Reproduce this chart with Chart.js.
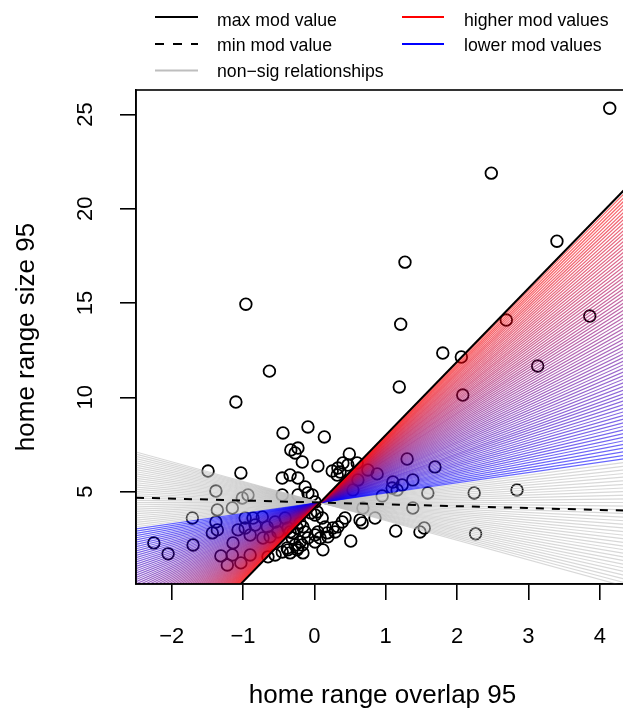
<!DOCTYPE html>
<html><head><meta charset="utf-8">
<script src="https://cdn.jsdelivr.net/npm/chart.js@4.4.1/dist/chart.umd.min.js"></script>
<style>
html,body{margin:0;padding:0;background:#fff;overflow:hidden;width:623px;height:711px;}
#wrap{position:relative;width:640px;height:711px;}
#c{position:absolute;left:0;top:0;}
.lg{position:absolute;font-family:"Liberation Sans",Arial,Helvetica,sans-serif;font-size:17.7px;color:#000;line-height:20px;white-space:nowrap;}
#lsvg{position:absolute;left:0;top:0;}
</style></head><body>
<div id="wrap">
<canvas id="c" width="640" height="711"></canvas>
<svg id="lsvg" width="623" height="88">
  <line x1="155" y1="17" x2="198" y2="17" stroke="#000" stroke-width="2"/>
  <line x1="155" y1="44" x2="198" y2="44" stroke="#000" stroke-width="2" stroke-dasharray="9 9"/>
  <line x1="155" y1="70.5" x2="198" y2="70.5" stroke="#bebebe" stroke-width="2"/>
  <line x1="402" y1="17" x2="444" y2="17" stroke="#ff0000" stroke-width="2"/>
  <line x1="402" y1="44" x2="444" y2="44" stroke="#0000ff" stroke-width="2"/>
</svg>
<div class="lg" style="left:217px;top:9.6px">max mod value</div>
<div class="lg" style="left:217px;top:35.2px">min mod value</div>
<div class="lg" style="left:217px;top:61.2px">non−sig relationships</div>
<div class="lg" style="left:464px;top:9.6px">higher mod values</div>
<div class="lg" style="left:464px;top:35.2px">lower mod values</div>
</div>
<script>
// ---- data ----
const xTicks = [-2, -1, 0, 1, 2, 3, 4];
const yTicks = [5, 10, 15, 20, 25];
const xRange = [-2.5, 4.41];
const yRange = [0.1, 26.3];

const overlap = [
  4.14, 2.48, 3.40, 1.27, -0.96, 1.21, 2.69, 3.86, 1.80, 2.06, -0.63, 1.19, 3.13, 2.08, -1.10,
  -0.44, -0.09, 0.14, -0.33, -0.23, -0.27, -0.17, 0.05, -1.49, -1.03, -0.45, -0.34, -0.23, 0.25, 0.33,
  0.40, 0.47, 0.36, 0.32, 0.49, 0.60, 0.75, 0.88, 0.61, 1.30, 1.69, 1.38, 1.10, 1.23, 1.09,
  1.16, 1.59, 0.95, 0.54, -0.13, -0.09, -0.23, 2.24, 2.84, 0.68, 1.38,
  -1.38, -0.93, -1.01, -0.45, -1.36, -1.15, -1.71, -1.38, -1.43, -1.36, -2.25, -2.05, -1.70, -1.31, -1.22,
  -1.15, -0.90, -1.03, -1.14, -1.07, -0.97, -0.86, -0.90, -0.83, -0.97, -0.73, -0.66, -0.62, -0.72, -0.55,
  -0.51, -0.41, -0.37, -0.31, -0.65, -0.55, -0.45, -0.37, -0.27, -0.20,
  0.12, 0.51, 0.67, 0.64, 0.85, 0.43, 0.39, 0.33, 0.26, 0.01, -0.09, -0.17, -0.23, -0.13, 0.05,
  0.15, 0.11, 0.01, 0.19, 0.29, 1.14, 1.48, 1.54, -0.05, 0.04, 0.01, -0.03, -0.20, -0.16, -0.24,
  -0.34, -0.30, 0.01, 0.08, 0.18, -0.38, -0.34, -0.24, -0.16, 2.26
];
const rangeSize = [
  25.33, 21.89, 18.28, 17.17, 14.94, 13.88, 14.10, 14.31, 12.35, 12.14, 11.39, 10.55, 11.66, 10.12, 9.75,
  8.11, 8.43, 7.90, 7.21, 7.31, 7.05, 6.57, 6.36, 6.09, 5.99, 5.72, 5.88, 5.72, 6.09, 6.25,
  6.52, 6.41, 6.04, 5.88, 7.00, 6.52, 6.15, 5.94, 5.62, 6.73, 6.31, 5.62, 5.51, 5.35, 5.19,
  5.09, 4.93, 4.77, 5.09, 5.25, 4.93, 4.82, 4.93, 5.09, 4.13, 4.13,
  5.03, 4.82, 4.66, 4.82, 4.03, 4.13, 3.60, 3.39, 2.81, 2.97, 2.28, 1.70, 2.17, 1.59, 1.11,
  1.64, 1.64, 1.22, 2.28, 2.97, 3.07, 3.60, 2.70, 3.23, 3.60, 3.66, 3.13, 2.60, 2.54, 3.39,
  2.86, 3.60, 3.07, 2.54, 1.54, 1.64, 1.80, 1.91, 2.17, 2.33,
  1.91, 2.38, 3.34, 3.50, 3.60, 3.60, 3.39, 3.13, 3.07, 2.33, 2.54, 2.17, 2.01, 2.86, 2.86,
  3.13, 3.60, 3.76, 2.60, 2.86, 2.91, 2.86, 3.07, 3.87, 3.92, 4.45, 4.82, 3.34, 3.13, 3.07,
  2.86, 2.81, 2.70, 2.54, 2.81, 2.01, 1.75, 1.91, 1.75, 2.76
];

// fitted relationships (all pass through a common point)
const fanPivot = [0.08, 4.42];        // [overlap, size]
const fanSlopeRange = [-1.04, 3.89];  // slope of lowest / highest moderator line
const fanLineCount = 110;
const sigSlopeLimit = 0.52;           // slopes below are non-significant
const maxModSlope = 3.89;
const minModSlope = -0.10;

// ---- chart ----
const FONT = '"Liberation Sans", Arial, Helvetica, sans-serif';
const lineAt = s => xRange.map(x => ({ x, y: fanPivot[1] + s * (x - fanPivot[0]) }));

const datasets = [];
datasets.push({ type: 'line', data: lineAt(maxModSlope), borderColor: '#000', borderWidth: 2,
  pointRadius: 0, order: 1 });
datasets.push({ type: 'line', data: lineAt(minModSlope), borderColor: '#000', borderWidth: 2,
  borderDash: [8, 8], pointRadius: 0, order: 2 });
for (let i = 0; i < fanLineCount; i++) {
  const s = fanSlopeRange[0] + (fanSlopeRange[1] - fanSlopeRange[0]) * i / (fanLineCount - 1);
  let col;
  if (s < sigSlopeLimit) {
    col = 'rgba(190,190,190,0.6)';
  } else {
    const t = (s - sigSlopeLimit) / (fanSlopeRange[1] - sigSlopeLimit);
    col = `rgba(${Math.round(255 * t)},0,${Math.round(255 * (1 - t))},0.6)`;
  }
  datasets.push({ type: 'line', data: lineAt(s), borderColor: col, borderWidth: 1.2,
    pointRadius: 0, order: 3000 - i });
}
datasets.push({ type: 'scatter', data: overlap.map((x, i) => ({ x, y: rangeSize[i] })),
  pointStyle: 'circle', pointRadius: 5.8, borderColor: '#000', backgroundColor: 'rgba(0,0,0,0)',
  borderWidth: 1.8, order: 5000 });

const boxPlugin = {
  id: 'box',
  afterDatasetsDraw(chart) {
    const { ctx, chartArea: a } = chart;
    ctx.save();
    ctx.strokeStyle = '#000';
    ctx.lineWidth = 1.6;
    ctx.strokeRect(a.left, a.top, a.right - a.left, a.bottom - a.top);
    ctx.restore();
  }
};

const fmt = v => String(v).replace('-', '\u2212');
const axisCommon = {
  type: 'linear',
  grid: { drawOnChartArea: false, drawTicks: true, tickLength: 16, color: '#000', lineWidth: 1.6 },
  border: { display: true, color: '#000', width: 1.6 },
};

new Chart(document.getElementById('c'), {
  type: 'scatter',
  data: { datasets },
  plugins: [boxPlugin],
  options: {
    responsive: false,
    animation: false,
    devicePixelRatio: 1,
    layout: { padding: { left: 0, top: 90, right: 11, bottom: 0 } },
    plugins: { legend: { display: false }, tooltip: { enabled: false } },
    elements: { line: { tension: 0 } },
    scales: {
      x: Object.assign({}, axisCommon, {
        min: xRange[0], max: xRange[1],
        afterBuildTicks: s => { s.ticks = xTicks.map(v => ({ value: v })); },
        afterFit: s => { s.height = 127; },
        ticks: { color: '#000', font: { family: FONT, size: 22 }, padding: 24, maxRotation: 0,
          autoSkip: false, callback: v => fmt(v) },
        title: { display: true, text: 'home range overlap 95', color: '#000',
          font: { family: FONT, size: 26, lineHeight: 1 }, padding: { top: 0, bottom: 1.7 } }
      }),
      y: Object.assign({}, axisCommon, {
        min: yRange[0], max: yRange[1],
        afterBuildTicks: s => { s.ticks = yTicks.map(v => ({ value: v })); },
        afterFit: s => { s.width = 136; },
        ticks: { color: '#000', font: { family: FONT, size: 22 }, padding: 22, minRotation: 90,
          maxRotation: 90, crossAlign: 'center', autoSkip: false, callback: v => fmt(v) },
        title: { display: true, text: 'home range size 95', color: '#000',
          font: { family: FONT, size: 26, lineHeight: 1 }, padding: { top: 14, bottom: 0 } }
      })
    }
  }
});
</script>
</body></html>
